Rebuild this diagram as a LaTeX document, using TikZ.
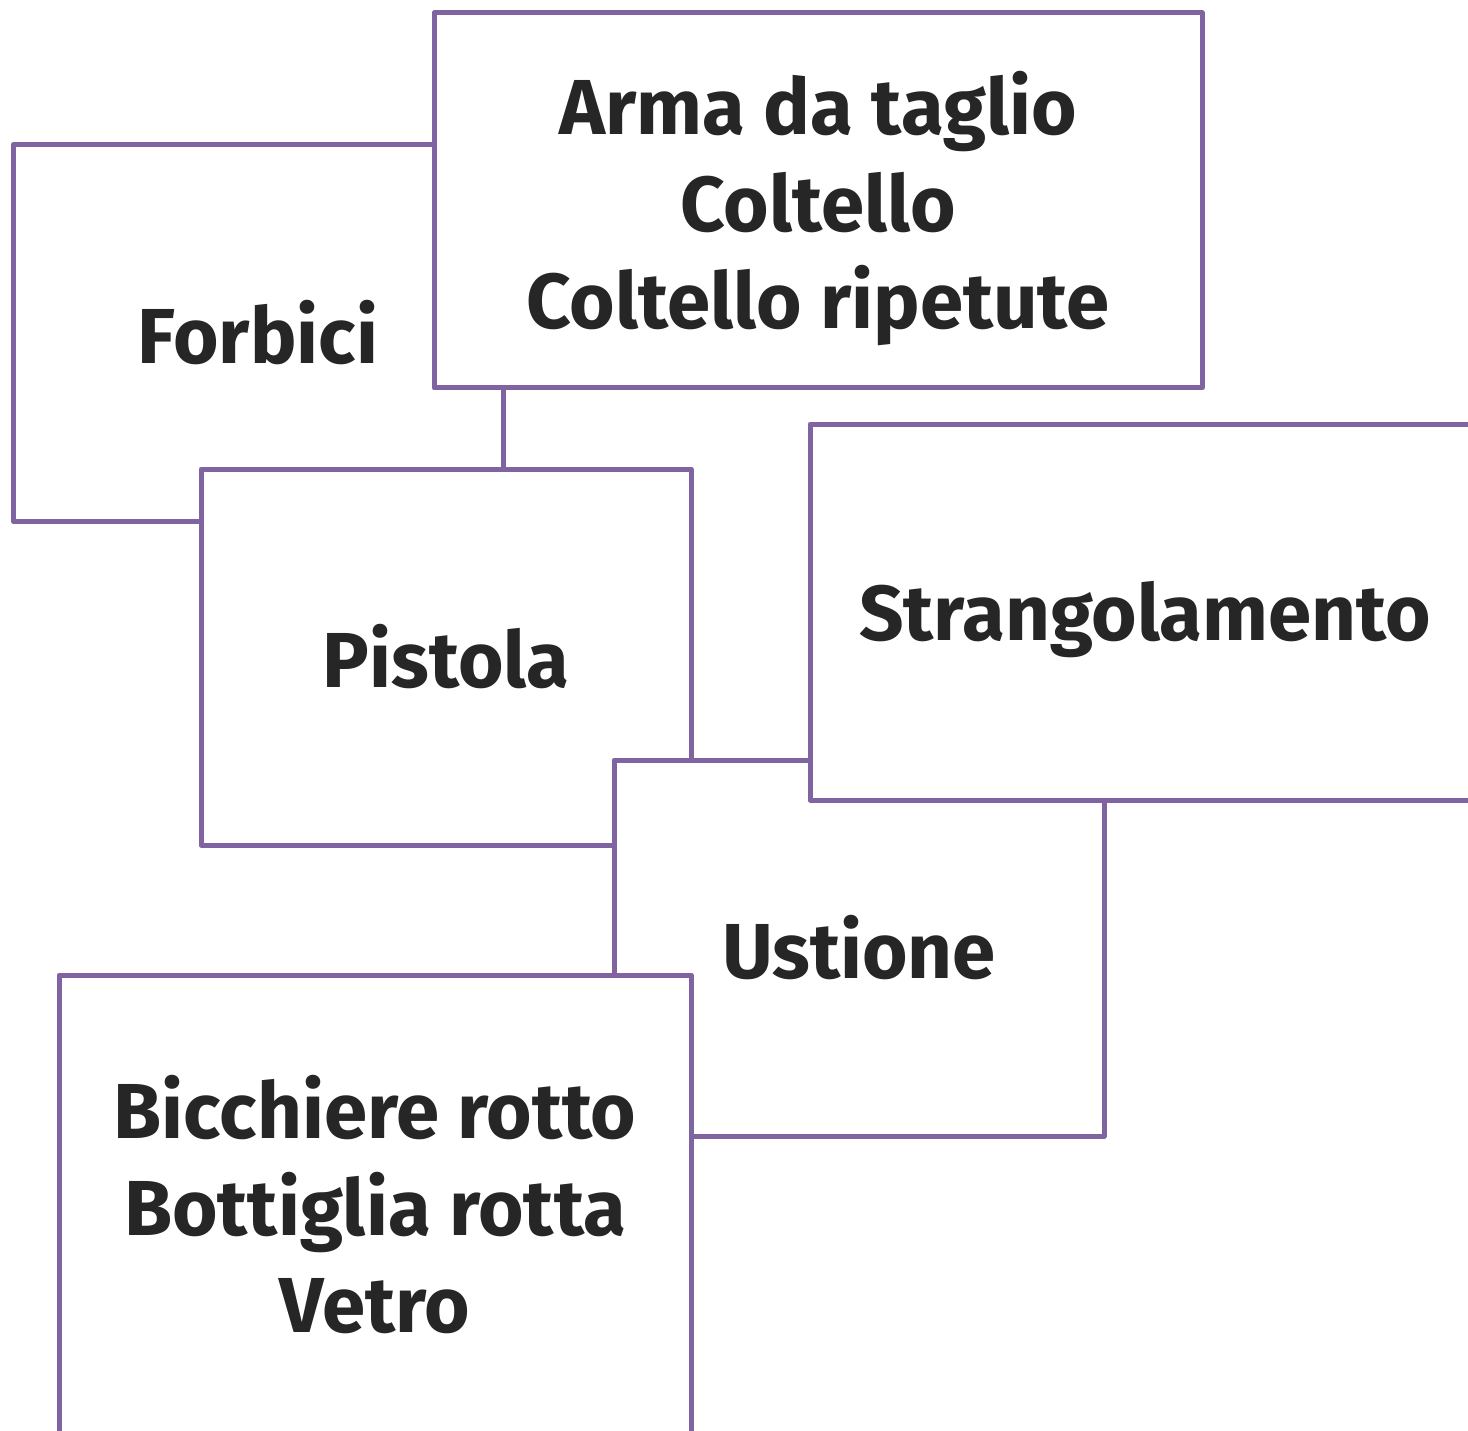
\documentclass[tikz,border=0pt]{standalone}
\usepackage{fontspec}
\setmainfont{Fira Sans}
\definecolor{boxline}{HTML}{8064A2}
\definecolor{txt}{HTML}{262626}
\begin{document}
\begin{tikzpicture}[x=1pt,y=-1pt,
  card/.style={draw=boxline, line width=5pt, line join=round, fill=white, rectangle,
    inner sep=0pt, align=center, text=txt,
    font=\fontsize{78}{97}\selectfont\bfseries},
  cardtext/.style={text=txt, font=\fontsize{78}{97}\selectfont\bfseries, align=center}]
\useasboundingbox (0,0) rectangle (1468,1431);
\clip (0,0) rectangle (1468,1431);
\node[card, minimum width=490pt, minimum height=376pt] (forbici) at (258,333) {Forbici};
\node[card, minimum width=768pt, minimum height=375pt] (arma) at (818,200.5) {};
\node[cardtext] (armat) at (818,208.5) {Arma da taglio\\Coltello\\Coltello ripetute};
\node[card, minimum width=490pt, minimum height=376pt] (pistola) at (446,657) {Pistola};
\node[card, minimum width=490pt, minimum height=376pt] (ustione) at (859,948) {Ustione};
\node[card, minimum width=670pt, minimum height=376pt] (strang) at (1145,612) {};
\node[cardtext] (strangt) at (1145,620) {Strangolamento};
\node[card, minimum width=632pt, minimum height=470pt] (bicch) at (375,1210) {};
\node[cardtext] (biccht) at (375,1205) {Bicchiere rotto\\Bottiglia rotta\\Vetro};
\end{tikzpicture}
\end{document}
